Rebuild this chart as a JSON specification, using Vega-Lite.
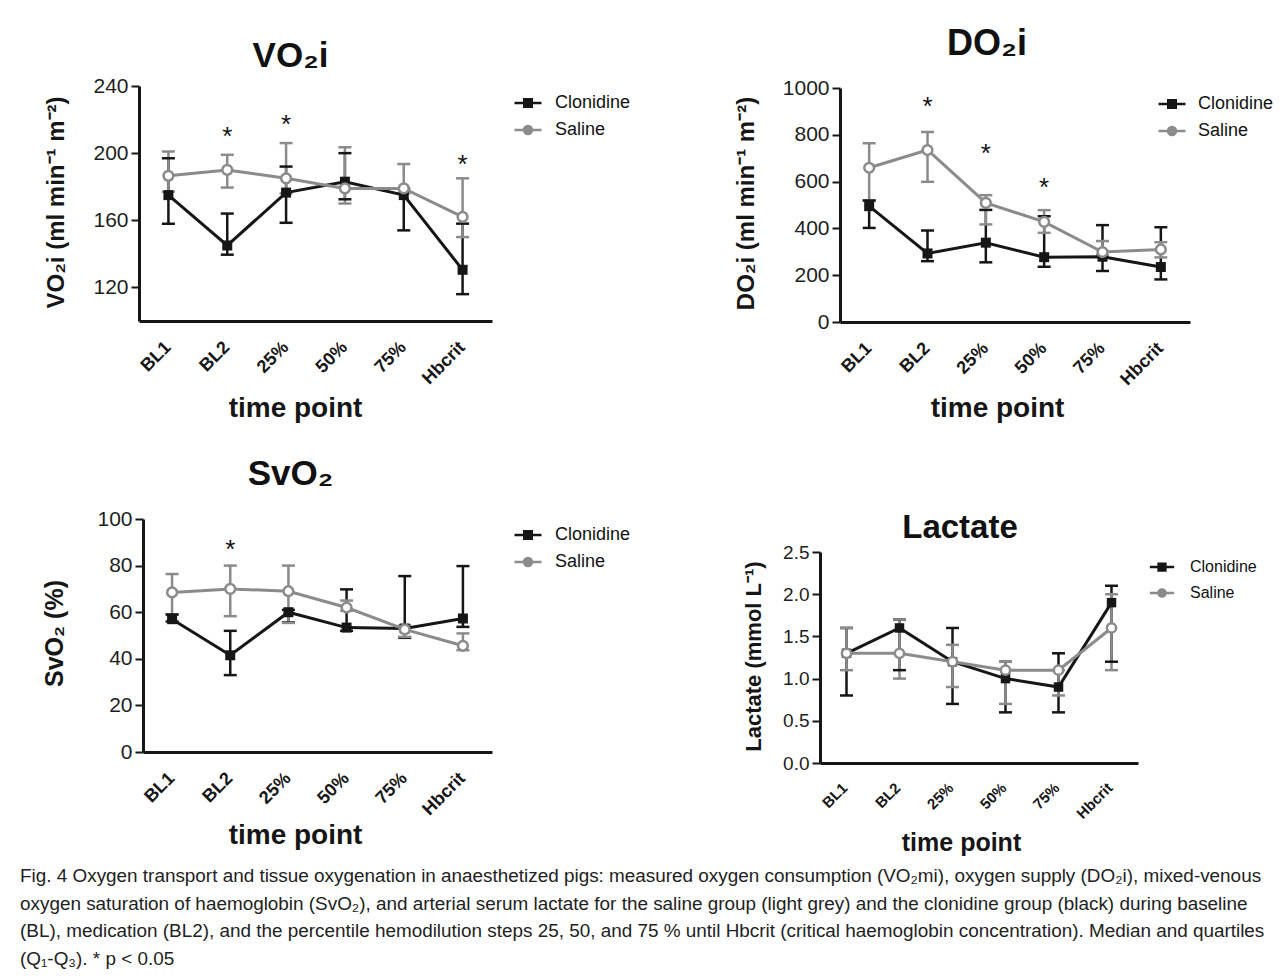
{
"$schema": "https://vega.github.io/schema/vega-lite/v6.json",
"background": "white",
"padding": {"left": 20, "top": 26, "right": 5, "bottom": 5},
"datasets": {
"vo2": [
{"group":"Clonidine","time":"BL1","value":175,"lo":158,"hi":197},
{"group":"Clonidine","time":"BL2","value":145,"lo":139.5,"hi":164},
{"group":"Clonidine","time":"25%","value":176.5,"lo":158.5,"hi":192},
{"group":"Clonidine","time":"50%","value":183,"lo":172.5,"hi":200},
{"group":"Clonidine","time":"75%","value":175,"lo":154,"hi":179},
{"group":"Clonidine","time":"Hbcrit","value":130.5,"lo":116,"hi":158},
{"group":"Saline","time":"BL1","value":186.5,"lo":177,"hi":201},
{"group":"Saline","time":"BL2","value":190,"lo":179.5,"hi":199},
{"group":"Saline","time":"25%","value":185,"lo":176,"hi":206},
{"group":"Saline","time":"50%","value":179,"lo":170,"hi":203.5},
{"group":"Saline","time":"75%","value":179,"lo":176,"hi":193.5},
{"group":"Saline","time":"Hbcrit","value":162,"lo":150,"hi":185}
],
"vo2s": [{"time":"BL2","y":212.5},{"time":"25%","y":220},{"time":"Hbcrit","y":196}],
"do2": [
{"group":"Clonidine","time":"BL1","value":495,"lo":402,"hi":519},
{"group":"Clonidine","time":"BL2","value":293,"lo":260,"hi":391},
{"group":"Clonidine","time":"25%","value":339,"lo":255,"hi":479},
{"group":"Clonidine","time":"50%","value":277,"lo":236,"hi":452},
{"group":"Clonidine","time":"75%","value":279,"lo":218,"hi":414},
{"group":"Clonidine","time":"Hbcrit","value":235,"lo":182,"hi":405},
{"group":"Saline","time":"BL1","value":659,"lo":520,"hi":764},
{"group":"Saline","time":"BL2","value":735,"lo":599,"hi":812},
{"group":"Saline","time":"25%","value":509,"lo":417,"hi":542},
{"group":"Saline","time":"50%","value":428,"lo":381,"hi":478},
{"group":"Saline","time":"75%","value":299,"lo":285,"hi":346},
{"group":"Saline","time":"Hbcrit","value":310,"lo":276,"hi":341}
],
"do2s": [{"time":"BL2","y":940},{"time":"25%","y":740},{"time":"50%","y":594}],
"svo2": [
{"group":"Clonidine","time":"BL1","value":57,"lo":56,"hi":59},
{"group":"Clonidine","time":"BL2","value":41.5,"lo":33,"hi":52},
{"group":"Clonidine","time":"25%","value":60,"lo":55.6,"hi":61},
{"group":"Clonidine","time":"50%","value":53.4,"lo":52,"hi":69.8},
{"group":"Clonidine","time":"75%","value":53,"lo":49,"hi":75.5},
{"group":"Clonidine","time":"Hbcrit","value":57.3,"lo":53.7,"hi":79.8},
{"group":"Saline","time":"BL1","value":68.5,"lo":59,"hi":76.4},
{"group":"Saline","time":"BL2","value":70,"lo":58.3,"hi":80},
{"group":"Saline","time":"25%","value":69,"lo":55.4,"hi":80},
{"group":"Saline","time":"50%","value":62,"lo":60.6,"hi":65},
{"group":"Saline","time":"75%","value":52.6,"lo":49.4,"hi":54.4},
{"group":"Saline","time":"Hbcrit","value":45.6,"lo":43.7,"hi":50.9}
],
"svo2s": [{"time":"BL2","y":89}],
"lac": [
{"group":"Clonidine","time":"BL1","value":1.3,"lo":0.8,"hi":1.6},
{"group":"Clonidine","time":"BL2","value":1.6,"lo":1.1,"hi":1.7},
{"group":"Clonidine","time":"25%","value":1.2,"lo":0.7,"hi":1.6},
{"group":"Clonidine","time":"50%","value":1.0,"lo":0.6,"hi":1.2},
{"group":"Clonidine","time":"75%","value":0.9,"lo":0.6,"hi":1.3},
{"group":"Clonidine","time":"Hbcrit","value":1.9,"lo":1.2,"hi":2.1},
{"group":"Saline","time":"BL1","value":1.3,"lo":1.1,"hi":1.6},
{"group":"Saline","time":"BL2","value":1.3,"lo":1.0,"hi":1.7},
{"group":"Saline","time":"25%","value":1.2,"lo":0.9,"hi":1.4},
{"group":"Saline","time":"50%","value":1.1,"lo":0.7,"hi":1.2},
{"group":"Saline","time":"75%","value":1.1,"lo":0.8,"hi":1.1},
{"group":"Saline","time":"Hbcrit","value":1.6,"lo":1.1,"hi":2.0}
]
},
"title": {
"text": [
"Fig. 4 Oxygen transport and tissue oxygenation in anaesthetized pigs: measured oxygen consumption (VO₂mi), oxygen supply (DO₂i), mixed-venous",
"oxygen saturation of haemoglobin (SvO₂), and arterial serum lactate for the saline group (light grey) and the clonidine group (black) during baseline",
"(BL), medication (BL2), and the percentile hemodilution steps 25, 50, and 75 % until Hbcrit (critical haemoglobin concentration). Median and quartiles",
"(Q₁-Q₃). * p < 0.05"
],
"orient": "bottom", "anchor": "start", "frame": "group", "dx": -119, "offset": 12,
"font": "Liberation Sans", "fontSize": 18.9, "fontWeight": "normal", "lineHeight": 27.5, "color": "#222", "baseline": "top"
},
"columns": 2,
"spacing": {"row": 197, "column": 348},
"bounds": "flush",
"resolve": {"scale": {"color": "independent", "fill": "independent", "shape": "independent"}, "legend": {"color": "independent", "fill": "independent", "shape": "independent"}},
"concat": [
{
"width": 353, "height": 235,
"title": {"text": "VO₂i", "fontSize": 35, "fontWeight": "bold", "anchor": "middle", "dx": -25, "offset": -27, "baseline": "alphabetic", "color": "#111", "font": "Liberation Sans"},
"data": {"name": "vo2"},
"encoding": {"x": {"field": "time", "type": "ordinal", "scale": {"type": "point", "padding": 0.5, "domain": ["BL1","BL2","25%","50%","75%","Hbcrit"]}, "axis": {"title": "time point", "titleX": 156, "titleY": 95}}},
"layer": [
{"mark": {"type": "point", "filled": false, "opacity": 1}, "encoding": {"y": {"field": "nolegendpos", "type": "quantitative"},
 "color": {"field": "group", "type": "nominal", "legend": {"orient": "none", "legendX": 380, "legendY": 8, "title": null, "labelFontSize": 18, "labelColor": "#111", "symbolSize": 100, "symbolStrokeWidth": 2.5, "labelOffset": 18, "rowPadding": 9, "padding": 0}},
 "shape": {"field": "group", "type": "nominal", "scale": {"domain": ["Clonidine","Saline"], "range": ["M-2.7,0H2.7M-0.75,-0.75H0.75V0.75H-0.75Z", "M-2.7,0H-0.8M0.8,0H2.7M-0.8,0A0.8,0.8 0 1,1 0.8,0A0.8,0.8 0 1,1 -0.8,0Z"]}, "legend": {"orient": "none", "legendX": 380, "legendY": 8, "title": null, "labelFontSize": 18, "labelColor": "#111", "symbolSize": 100, "symbolStrokeWidth": 2.5, "labelOffset": 18, "rowPadding": 9, "padding": 0}},
 "fill": {"field": "group", "type": "nominal", "scale": {"domain": ["Clonidine","Saline"], "range": ["#161616","white"]}, "legend": {"orient": "none", "legendX": 380, "legendY": 8, "title": null, "labelFontSize": 18, "labelColor": "#111", "symbolSize": 100, "symbolStrokeWidth": 2.5, "labelOffset": 18, "rowPadding": 9, "padding": 0}}}},
{"mark": {"type": "rule", "strokeWidth": 2.5}, "encoding": {"y": {"field": "lo", "type": "quantitative", "scale": {"domain": [100, 240], "nice": false, "zero": false}, "axis": {"values": [120,160,200,240], "title": "VO₂i (ml min⁻¹ m⁻²)", "titleX": -76, "titleY": 116}}, "y2": {"field": "hi"}, "color": {"field": "group", "type": "nominal", "scale": {"domain": ["Clonidine","Saline"], "range": ["#161616","#8b8b8b"]}, "legend": null}}},
{"mark": {"type": "tick", "thickness": 2.5, "size": 13, "opacity": 1}, "encoding": {"y": {"field": "lo", "type": "quantitative"}, "color": {"field": "group", "type": "nominal", "legend": null}}},
{"mark": {"type": "tick", "thickness": 2.5, "size": 13, "opacity": 1}, "encoding": {"y": {"field": "hi", "type": "quantitative"}, "color": {"field": "group", "type": "nominal", "legend": null}}},
{"mark": {"type": "line", "strokeWidth": 3}, "encoding": {"y": {"field": "value", "type": "quantitative"}, "color": {"field": "group", "type": "nominal", "legend": null}}},
{"transform": [{"filter": "datum.group === 'Clonidine'"}], "mark": {"type": "square", "size": 100, "filled": true, "color": "#161616", "opacity": 1}, "encoding": {"y": {"field": "value", "type": "quantitative"}}},
{"transform": [{"filter": "datum.group === 'Saline'"}], "mark": {"type": "point", "shape": "circle", "size": 95, "filled": false, "fill": "white", "fillOpacity": 1, "stroke": "#8b8b8b", "strokeWidth": 2.5, "opacity": 1}, "encoding": {"y": {"field": "value", "type": "quantitative"}}},
{"data": {"name": "vo2s"}, "mark": {"type": "text", "text": "*", "fontSize": 26, "baseline": "middle", "dy": 5, "color": "#111"}, "encoding": {"y": {"field": "y", "type": "quantitative"}}}
]
},
{
"width": 350, "height": 236,
"title": {"text": "DO₂i", "fontSize": 36, "fontWeight": "bold", "anchor": "middle", "dx": -28, "offset": -14, "baseline": "alphabetic", "color": "#111", "font": "Liberation Sans"},
"data": {"name": "do2"},
"encoding": {"x": {"field": "time", "type": "ordinal", "scale": {"type": "point", "padding": 0.5, "domain": ["BL1","BL2","25%","50%","75%","Hbcrit"]}, "axis": {"title": "time point", "titleX": 157, "titleY": 94}}},
"layer": [
{"mark": {"type": "point", "filled": false, "opacity": 1}, "encoding": {"y": {"field": "nolegendpos", "type": "quantitative"},
 "color": {"field": "group", "type": "nominal", "legend": {"orient": "none", "legendX": 323, "legendY": 9, "title": null, "labelFontSize": 18, "labelColor": "#111", "symbolSize": 100, "symbolStrokeWidth": 2.5, "labelOffset": 17, "rowPadding": 9, "padding": 0}},
 "shape": {"field": "group", "type": "nominal", "scale": {"domain": ["Clonidine","Saline"], "range": ["M-2.7,0H2.7M-0.75,-0.75H0.75V0.75H-0.75Z", "M-2.7,0H-0.8M0.8,0H2.7M-0.8,0A0.8,0.8 0 1,1 0.8,0A0.8,0.8 0 1,1 -0.8,0Z"]}, "legend": {"orient": "none", "legendX": 323, "legendY": 9, "title": null, "labelFontSize": 18, "labelColor": "#111", "symbolSize": 100, "symbolStrokeWidth": 2.5, "labelOffset": 17, "rowPadding": 9, "padding": 0}},
 "fill": {"field": "group", "type": "nominal", "scale": {"domain": ["Clonidine","Saline"], "range": ["#161616","white"]}, "legend": {"orient": "none", "legendX": 323, "legendY": 9, "title": null, "labelFontSize": 18, "labelColor": "#111", "symbolSize": 100, "symbolStrokeWidth": 2.5, "labelOffset": 17, "rowPadding": 9, "padding": 0}}}},
{"mark": {"type": "rule", "strokeWidth": 2.5}, "encoding": {"y": {"field": "lo", "type": "quantitative", "scale": {"domain": [0, 1000], "nice": false, "zero": false, "range": [236, 2]}, "axis": {"values": [0,200,400,600,800,1000], "format": "d", "title": "DO₂i (ml min⁻¹ m⁻²)", "titleX": -87, "titleY": 117}}, "y2": {"field": "hi"}, "color": {"field": "group", "type": "nominal", "scale": {"domain": ["Clonidine","Saline"], "range": ["#161616","#8b8b8b"]}, "legend": null}}},
{"mark": {"type": "tick", "thickness": 2.5, "size": 13, "opacity": 1}, "encoding": {"y": {"field": "lo", "type": "quantitative"}, "color": {"field": "group", "type": "nominal", "legend": null}}},
{"mark": {"type": "tick", "thickness": 2.5, "size": 13, "opacity": 1}, "encoding": {"y": {"field": "hi", "type": "quantitative"}, "color": {"field": "group", "type": "nominal", "legend": null}}},
{"mark": {"type": "line", "strokeWidth": 3}, "encoding": {"y": {"field": "value", "type": "quantitative"}, "color": {"field": "group", "type": "nominal", "legend": null}}},
{"transform": [{"filter": "datum.group === 'Clonidine'"}], "mark": {"type": "square", "size": 100, "filled": true, "color": "#161616", "opacity": 1}, "encoding": {"y": {"field": "value", "type": "quantitative"}}},
{"transform": [{"filter": "datum.group === 'Saline'"}], "mark": {"type": "point", "shape": "circle", "size": 95, "filled": false, "fill": "white", "fillOpacity": 1, "stroke": "#8b8b8b", "strokeWidth": 2.5, "opacity": 1}, "encoding": {"y": {"field": "value", "type": "quantitative"}}},
{"data": {"name": "do2s"}, "mark": {"type": "text", "text": "*", "fontSize": 26, "baseline": "middle", "dy": 5, "color": "#111"}, "encoding": {"y": {"field": "y", "type": "quantitative"}}}
]
},
{
"width": 353, "height": 233,
"title": {"text": "SvO₂", "fontSize": 35, "fontWeight": "bold", "anchor": "middle", "dx": -25, "offset": -12, "baseline": "alphabetic", "color": "#111", "font": "Liberation Sans"},
"data": {"name": "svo2"},
"encoding": {"x": {"field": "time", "type": "ordinal", "scale": {"type": "point", "padding": 0.5, "domain": ["BL1","BL2","25%","50%","75%","Hbcrit"], "range": [4, 353]}, "axis": {"title": "time point", "titleX": 156, "titleY": 91}}},
"layer": [
{"mark": {"type": "point", "filled": false, "opacity": 1}, "encoding": {"y": {"field": "nolegendpos", "type": "quantitative"},
 "color": {"field": "group", "type": "nominal", "legend": {"orient": "none", "legendX": 380, "legendY": 7, "title": null, "labelFontSize": 18, "labelColor": "#111", "symbolSize": 100, "symbolStrokeWidth": 2.5, "labelOffset": 18, "rowPadding": 9, "padding": 0}},
 "shape": {"field": "group", "type": "nominal", "scale": {"domain": ["Clonidine","Saline"], "range": ["M-2.7,0H2.7M-0.75,-0.75H0.75V0.75H-0.75Z", "M-2.7,0H-0.8M0.8,0H2.7M-0.8,0A0.8,0.8 0 1,1 0.8,0A0.8,0.8 0 1,1 -0.8,0Z"]}, "legend": {"orient": "none", "legendX": 380, "legendY": 7, "title": null, "labelFontSize": 18, "labelColor": "#111", "symbolSize": 100, "symbolStrokeWidth": 2.5, "labelOffset": 18, "rowPadding": 9, "padding": 0}},
 "fill": {"field": "group", "type": "nominal", "scale": {"domain": ["Clonidine","Saline"], "range": ["#161616","white"]}, "legend": {"orient": "none", "legendX": 380, "legendY": 7, "title": null, "labelFontSize": 18, "labelColor": "#111", "symbolSize": 100, "symbolStrokeWidth": 2.5, "labelOffset": 18, "rowPadding": 9, "padding": 0}}}},
{"mark": {"type": "rule", "strokeWidth": 2.5}, "encoding": {"y": {"field": "lo", "type": "quantitative", "scale": {"domain": [0, 100], "nice": false, "zero": false}, "axis": {"values": [0,20,40,60,80,100], "offset": -4, "title": "SvO₂ (%)", "titleX": -81, "titleY": 114, "titleFontSize": 25}}, "y2": {"field": "hi"}, "color": {"field": "group", "type": "nominal", "scale": {"domain": ["Clonidine","Saline"], "range": ["#161616","#8b8b8b"]}, "legend": null}}},
{"mark": {"type": "tick", "thickness": 2.5, "size": 13, "opacity": 1}, "encoding": {"y": {"field": "lo", "type": "quantitative"}, "color": {"field": "group", "type": "nominal", "legend": null}}},
{"mark": {"type": "tick", "thickness": 2.5, "size": 13, "opacity": 1}, "encoding": {"y": {"field": "hi", "type": "quantitative"}, "color": {"field": "group", "type": "nominal", "legend": null}}},
{"mark": {"type": "line", "strokeWidth": 3}, "encoding": {"y": {"field": "value", "type": "quantitative"}, "color": {"field": "group", "type": "nominal", "legend": null}}},
{"transform": [{"filter": "datum.group === 'Clonidine'"}], "mark": {"type": "square", "size": 100, "filled": true, "color": "#161616", "opacity": 1}, "encoding": {"y": {"field": "value", "type": "quantitative"}}},
{"transform": [{"filter": "datum.group === 'Saline'"}], "mark": {"type": "point", "shape": "circle", "size": 95, "filled": false, "fill": "white", "fillOpacity": 1, "stroke": "#8b8b8b", "strokeWidth": 2.5, "opacity": 1}, "encoding": {"y": {"field": "value", "type": "quantitative"}}},
{"data": {"name": "svo2s"}, "mark": {"type": "text", "text": "*", "fontSize": 26, "baseline": "middle", "dy": 5, "color": "#111"}, "encoding": {"y": {"field": "y", "type": "quantitative"}}}
]
},
{
"width": 298, "height": 244,
"title": {"text": "Lactate", "fontSize": 33, "fontWeight": "bold", "anchor": "middle", "dx": -29, "offset": -52, "baseline": "alphabetic", "color": "#111", "font": "Liberation Sans"},
"data": {"name": "lac"},
"encoding": {"x": {"field": "time", "type": "ordinal", "scale": {"type": "point", "padding": 0.5, "domain": ["BL1","BL2","25%","50%","75%","Hbcrit"], "range": [-20, 298]}, "axis": {"title": "time point", "titleX": 121, "titleY": 87, "labelFontSize": 15, "titleFontSize": 25}}},
"layer": [
{"mark": {"type": "point", "filled": false, "opacity": 1}, "encoding": {"y": {"field": "nolegendpos", "type": "quantitative"},
 "color": {"field": "group", "type": "nominal", "legend": {"orient": "none", "legendX": 314, "legendY": 40, "title": null, "labelFontSize": 16, "labelColor": "#111", "symbolSize": 81, "symbolStrokeWidth": 2.5, "labelOffset": 20, "rowPadding": 8, "padding": 0}},
 "shape": {"field": "group", "type": "nominal", "scale": {"domain": ["Clonidine","Saline"], "range": ["M-2.7,0H2.7M-0.75,-0.75H0.75V0.75H-0.75Z", "M-2.7,0H-0.8M0.8,0H2.7M-0.8,0A0.8,0.8 0 1,1 0.8,0A0.8,0.8 0 1,1 -0.8,0Z"]}, "legend": {"orient": "none", "legendX": 314, "legendY": 40, "title": null, "labelFontSize": 16, "labelColor": "#111", "symbolSize": 81, "symbolStrokeWidth": 2.5, "labelOffset": 20, "rowPadding": 8, "padding": 0}},
 "fill": {"field": "group", "type": "nominal", "scale": {"domain": ["Clonidine","Saline"], "range": ["#161616","white"]}, "legend": {"orient": "none", "legendX": 314, "legendY": 40, "title": null, "labelFontSize": 16, "labelColor": "#111", "symbolSize": 81, "symbolStrokeWidth": 2.5, "labelOffset": 20, "rowPadding": 8, "padding": 0}}}},
{"mark": {"type": "rule", "strokeWidth": 2.5}, "encoding": {"y": {"field": "lo", "type": "quantitative", "scale": {"domain": [0, 2.5], "nice": false, "zero": false, "range": [244, 33]}, "axis": {"values": [0,0.5,1,1.5,2,2.5], "format": ".1f", "offset": 20, "title": "Lactate (mmol L⁻¹)", "titleX": -60, "titleY": 137, "titleFontSize": 22, "labelFontSize": 19}}, "y2": {"field": "hi"}, "color": {"field": "group", "type": "nominal", "scale": {"domain": ["Clonidine","Saline"], "range": ["#161616","#8b8b8b"]}, "legend": null}}},
{"mark": {"type": "tick", "thickness": 2.5, "size": 13, "opacity": 1}, "encoding": {"y": {"field": "lo", "type": "quantitative"}, "color": {"field": "group", "type": "nominal", "legend": null}}},
{"mark": {"type": "tick", "thickness": 2.5, "size": 13, "opacity": 1}, "encoding": {"y": {"field": "hi", "type": "quantitative"}, "color": {"field": "group", "type": "nominal", "legend": null}}},
{"mark": {"type": "line", "strokeWidth": 3}, "encoding": {"y": {"field": "value", "type": "quantitative"}, "color": {"field": "group", "type": "nominal", "legend": null}}},
{"transform": [{"filter": "datum.group === 'Clonidine'"}], "mark": {"type": "square", "size": 90, "filled": true, "color": "#161616", "opacity": 1}, "encoding": {"y": {"field": "value", "type": "quantitative"}}},
{"transform": [{"filter": "datum.group === 'Saline'"}], "mark": {"type": "point", "shape": "circle", "size": 85, "filled": false, "fill": "white", "fillOpacity": 1, "stroke": "#8b8b8b", "strokeWidth": 2.5, "opacity": 1}, "encoding": {"y": {"field": "value", "type": "quantitative"}}}
]
}
],
"config": {
"view": {"stroke": null},
"font": "Liberation Sans",
"axis": {"grid": false, "domainColor": "#161616", "domainWidth": 3, "tickColor": "#161616", "tickWidth": 2, "labelColor": "#1e1e1e", "titleColor": "#161616", "labelFont": "Liberation Sans", "titleFont": "Liberation Sans", "titleFontWeight": "bold"},
"axisY": {"tickSize": 8, "labelFontSize": 21, "labelPadding": 3, "titleAngle": -90, "titleBaseline": "alphabetic", "titleAlign": "center", "titleFontSize": 24},
"axisX": {"ticks": false, "tickSize": 0, "labelAngle": -45, "labelFontWeight": "bold", "labelFontSize": 18, "labelPadding": 17, "labelOffset": -7, "titleFontSize": 28, "titleBaseline": "alphabetic", "titleAlign": "center", "labelColor": "#161616"}
}
}
